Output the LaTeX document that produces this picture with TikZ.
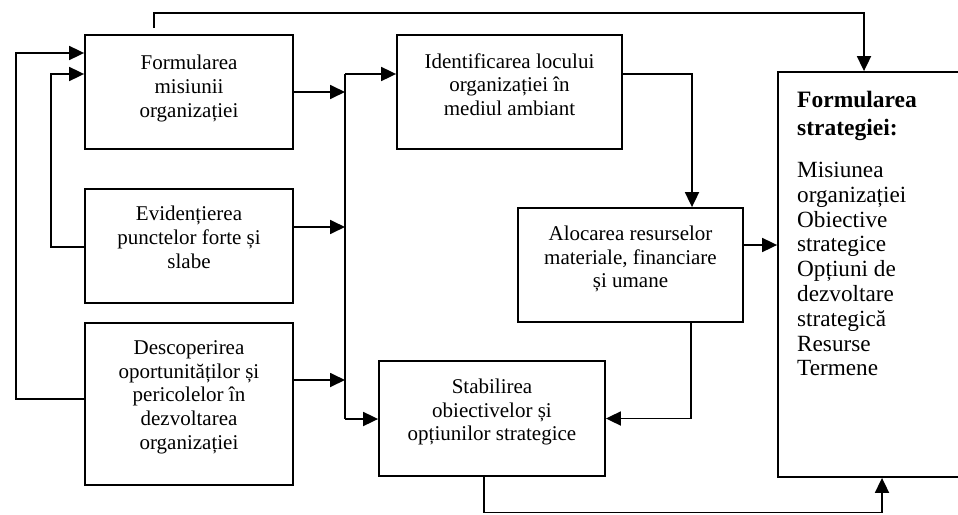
\documentclass[tikz,border=0pt]{standalone}
\usepackage{fontspec}
\setmainfont{Liberation Serif}
\usetikzlibrary{arrows.meta}
\begin{document}
\begin{tikzpicture}[x=1pt,y=-1pt,
  wire/.style={line width=1.8pt},
  arr/.style={wire,-{Triangle[length=15pt,width=14pt]}},
  box/.style={draw,line width=1.8pt,inner sep=0pt},
  boxtext/.style={anchor=north,inner sep=0pt,align=center,
    font=\fontsize{21}{23.8}\selectfont}]
\useasboundingbox (0,0) rectangle (958,514);
\clip (0,0) rectangle (958,514);

% process boxes
\node[box,minimum width=208pt,minimum height=114pt] (A) at (189,92) {};
\node[boxtext] (At) at ([yshift=-21pt]A.north) {Formularea\\misiunii\\organizației};

\node[box,minimum width=208pt,minimum height=114pt] (B) at (189,246) {};
\node[boxtext] (Bt) at ([yshift=-18pt]B.north) {Evidențierea\\punctelor forte și\\slabe};

\node[box,minimum width=208pt,minimum height=162pt] (C) at (189,404) {};
\node[boxtext] (Ct) at ([yshift=-18pt]C.north) {Descoperirea\\oportunităților și\\pericolelor în\\dezvoltarea\\organizației};

\node[box,minimum width=225pt,minimum height=114pt] (D) at (509.5,92) {};
\node[boxtext] (Dt) at ([yshift=-19pt]D.north) {Identificarea locului\\organizației în\\mediul ambiant};

\node[box,minimum width=225pt,minimum height=114pt] (E) at (630.5,265) {};
\node[boxtext] (Et) at ([yshift=-18.5pt]E.north) {Alocarea resurselor\\materiale, financiare\\și umane};

\node[box,minimum width=226pt,minimum height=115pt] (F) at (492,418.5) {};
\node[boxtext] (Ft) at ([yshift=-18.5pt]F.north) {Stabilirea\\obiectivelor și\\opțiunilor strategice};

% strategy box, running past the right edge
\node[box,minimum width=202pt,minimum height=405pt] (G) at (879,274.5) {};
\node[anchor=north west,inner sep=0pt,align=left,
  font=\bfseries\fontsize{23.5}{28}\selectfont] (Gt) at (797,91)
  {Formularea\\strategiei:};
\node[anchor=north west,inner sep=0pt,align=left,
  font=\fontsize{23.2}{24.8}\selectfont] (Gl) at (797,162)
  {Misiunea\\organizației\\Obiective\\strategice\\Opțiuni de\\dezvoltare\\strategică\\Resurse\\Termene};

% collecting bus
\coordinate (bt) at (345,74);
\coordinate (bb) at (345,419);
\draw[wire] (bt) -- (bb);
\draw[arr] (bt) -- (D.west |- bt);
\draw[arr] (bb) -- (F.west |- bb);
\draw[arr] (A.east) -- (A.east -| bt);
\draw[arr] ([yshift=19pt]B.east) -- ([yshift=19pt]B.east -| bt);
\draw[arr] ([yshift=24pt]C.east) -- ([yshift=24pt]C.east -| bt);

% feedback to the mission
\draw[arr] ([yshift=5pt]C.west) -| (16,53) -- (A.west |- 0,53);
\draw[arr] (B.west |- 0,247) -| (51,74) -- (A.west |- 0,74);

% right-hand flow
\draw[arr] (D.east |- 0,74) -| (E.north -| 692,0);
\draw[arr] (E.east |- 0,245) -- (G.west |- 0,245);
\draw[arr] (E.south -| 691,0) |- (F.east);
\draw[arr] (F.south -| 484,0) |- (882,512.5) -- (G.south -| 882,0);

% link from the mission to the strategy
\coordinate (top0) at (154,28);
\draw[arr] (top0) |- (864,13) -- (G.north -| 864,0);
\end{tikzpicture}
\end{document}
